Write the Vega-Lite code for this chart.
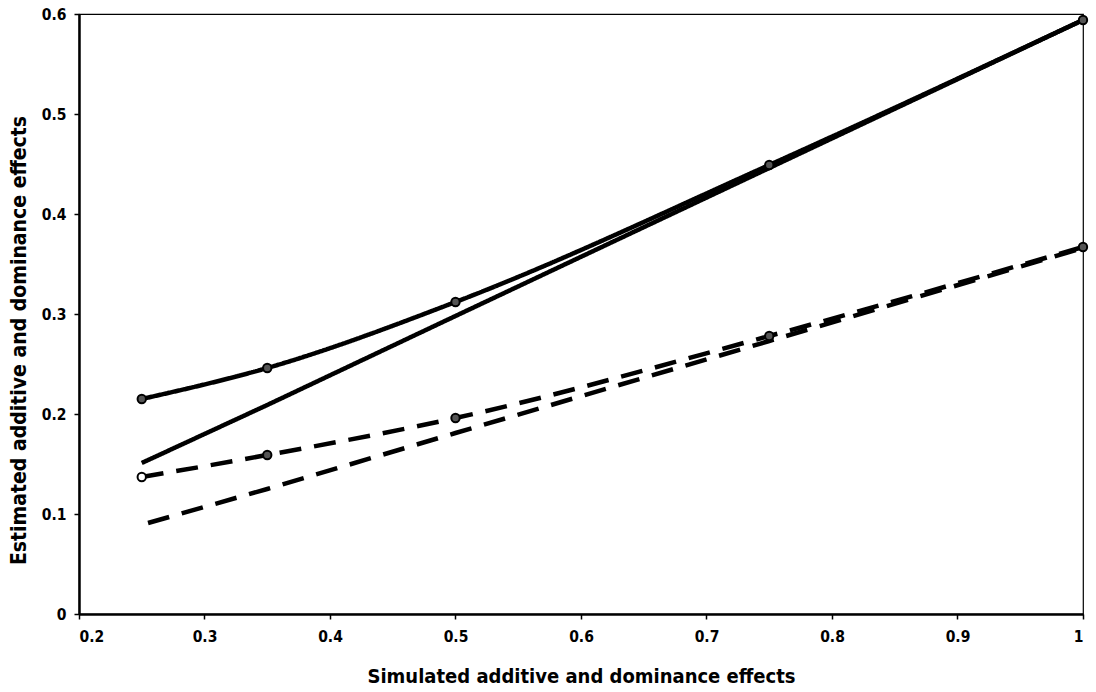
{
  "$schema": "https://vega.github.io/schema/vega-lite/v6.json",
  "width": 1004,
  "height": 600,
  "autosize": {"type": "none"},
  "padding": {"left": 79, "top": 14, "right": 13, "bottom": 78},
  "background": "white",
  "config": {
    "font": "DejaVu Sans Condensed, Liberation Sans, sans-serif",
    "view": {"stroke": "black", "strokeWidth": 1.2},
    "axis": {
      "grid": false,
      "domainColor": "black",
      "domainWidth": 2.5,
      "tickColor": "black",
      "tickWidth": 1.5,
      "tickSize": 5,
      "labelFont": "DejaVu Sans Condensed, Liberation Sans, sans-serif",
      "labelFontSize": 15.5,
      "labelFontWeight": "bold",
      "labelColor": "black",
      "titleFont": "DejaVu Sans Condensed, Liberation Sans, sans-serif",
      "titleFontWeight": "bold",
      "titleColor": "black"
    }
  },
  "datasets": {
    "obs": [
      {"x": 0.25, "y": 0.215, "effect": "additive"},
      {"x": 0.35, "y": 0.246, "effect": "additive"},
      {"x": 0.5, "y": 0.312, "effect": "additive"},
      {"x": 0.75, "y": 0.449, "effect": "additive"},
      {"x": 1.0, "y": 0.594, "effect": "additive"},
      {"x": 0.25, "y": 0.137, "effect": "dominance"},
      {"x": 0.35, "y": 0.159, "effect": "dominance"},
      {"x": 0.5, "y": 0.196, "effect": "dominance"},
      {"x": 0.75, "y": 0.278, "effect": "dominance"},
      {"x": 1.0, "y": 0.367, "effect": "dominance"}
    ],
    "fit": [
      {"x": 0.25, "y": 0.151, "effect": "additive"},
      {"x": 0.35, "y": 0.209, "effect": "additive"},
      {"x": 0.5, "y": 0.298, "effect": "additive"},
      {"x": 0.75, "y": 0.446, "effect": "additive"},
      {"x": 1.0, "y": 0.594, "effect": "additive"},
      {"x": 0.255, "y": 0.091, "effect": "dominance"},
      {"x": 0.35, "y": 0.125, "effect": "dominance"},
      {"x": 0.5, "y": 0.181, "effect": "dominance"},
      {"x": 0.75, "y": 0.273, "effect": "dominance"},
      {"x": 1.0, "y": 0.366, "effect": "dominance"}
    ]
  },
  "encoding": {
    "x": {
      "field": "x",
      "type": "quantitative",
      "scale": {"domain": [0.2, 1], "nice": false, "zero": false},
      "axis": {
        "title": "Simulated additive and dominance effects",
        "values": [0.2, 0.3, 0.4, 0.5, 0.6, 0.7, 0.8, 0.9, 1],
        "format": "~g",
        "labelPadding": 10,
        "titlePadding": 22,
        "titleFontSize": 20
      }
    },
    "y": {
      "field": "y",
      "type": "quantitative",
      "scale": {"domain": [0, 0.6], "nice": false},
      "axis": {
        "title": "Estimated additive and dominance effects",
        "values": [0, 0.1, 0.2, 0.3, 0.4, 0.5, 0.6],
        "format": "~g",
        "labelPadding": 8,
        "titlePadding": 12,
        "titleFontSize": 21,
        "titleY": 326
      }
    }
  },
  "layer": [
    {
      "data": {"name": "fit"},
      "mark": {"type": "line", "color": "black", "strokeWidth": 4.5, "strokeCap": "butt"},
      "encoding": {
        "detail": {"field": "effect"},
        "strokeDash": {
          "field": "effect",
          "type": "nominal",
          "scale": {"domain": ["additive", "dominance"], "range": [[1, 0], [22, 13]]},
          "legend": null
        }
      }
    },
    {
      "data": {"name": "obs"},
      "mark": {"type": "line", "color": "black", "strokeWidth": 4.5, "interpolate": "monotone", "strokeCap": "butt"},
      "encoding": {
        "detail": {"field": "effect"},
        "strokeDash": {
          "field": "effect",
          "type": "nominal",
          "scale": {"domain": ["additive", "dominance"], "range": [[1, 0], [22, 13]]},
          "legend": null
        }
      }
    },
    {
      "data": {"name": "obs"},
      "mark": {"type": "point", "shape": "circle", "filled": true, "size": 70, "stroke": "black", "strokeWidth": 2, "opacity": 1},
      "encoding": {
        "fill": {
          "condition": {"test": "datum.effect === 'dominance' && datum.x === 0.25", "value": "white"},
          "value": "#555555"
        }
      }
    }
  ]
}
